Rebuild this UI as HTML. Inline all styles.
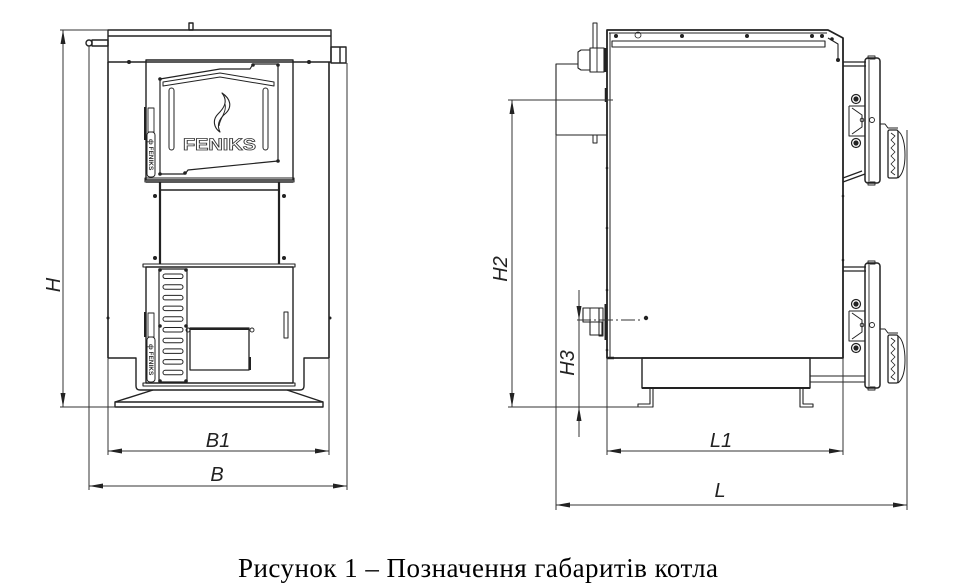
<!DOCTYPE html>
<html><head><meta charset="utf-8"><style>
html,body{margin:0;padding:0;background:#fff;}
svg{display:block;}
</style></head><body>
<svg width="953" height="584" viewBox="0 0 953 584" xmlns="http://www.w3.org/2000/svg">
<defs>
<marker id="a" viewBox="0 0 14 5" refX="14" refY="2.5" markerWidth="14" markerHeight="5" markerUnits="userSpaceOnUse" orient="auto-start-reverse"><path d="M0,0L14,2.5L0,5z" fill="#222"/></marker>
</defs>
<rect width="953" height="584" fill="#fff"/>

<!-- ================= FRONT VIEW ================= -->
<g stroke="#222" fill="none" stroke-width="1.4" stroke-linejoin="round">
  <rect x="108" y="30" width="223" height="32"/>
  <line x1="108" y1="36" x2="331" y2="36"/>
  <rect x="189" y="23" width="4" height="7"/>
  <circle cx="89" cy="43" r="3"/>
  <rect x="92" y="40" width="16" height="6"/>
  <rect x="331" y="47" width="15" height="16"/>
  <line x1="340" y1="47" x2="340" y2="63"/>
  <line x1="108" y1="62" x2="108" y2="358" stroke-width="1.6"/>
  <line x1="329" y1="62" x2="329" y2="358" stroke-width="1.6"/>
  <rect x="146" y="60" width="147" height="120"/>
  <rect x="145" y="178" width="149" height="4" stroke-width="1.1"/>
  <path d="M160,79 L220,69 L250,69 L253,64 L278,64 L278,161 L188,170 L185,174 L160,174 Z" stroke-width="1.2"/>
  <path d="M163,82 L220,73 L274,82 L274,86 L220,77 L163,86 Z" stroke-width="1"/>
  <rect x="169" y="88" width="5" height="62" rx="2.5" stroke-width="1"/>
  <rect x="263" y="88" width="5" height="62" rx="2.5" stroke-width="1"/>
  <path d="M222,93 C229,102 223,109 218,114 C212,120 214,128 220,132 C216,124 220,118 226,113 C232,107 231,99 222,93 Z" stroke-width="1.1"/>
  <path d="M225,104 C227,112 220,118 219,126" stroke-width="0.9"/>
  <line x1="146" y1="182" x2="293" y2="182"/>
  <line x1="160" y1="190" x2="279" y2="190"/>
  <line x1="160" y1="182" x2="160" y2="264" stroke-width="2.2"/>
  <line x1="279" y1="182" x2="279" y2="264" stroke-width="2.2"/>
  <line x1="145" y1="107" x2="145" y2="140" stroke-width="2"/>
  <rect x="148" y="108" width="6" height="24" stroke-width="0.9"/>
  <rect x="147" y="132" width="8" height="45" rx="3" stroke-width="1"/>
  <rect x="143" y="264" width="152" height="3" stroke-width="1.1"/>
  <rect x="146" y="267" width="147" height="116"/>
  <rect x="143" y="383" width="152" height="3" stroke-width="1.1"/>
  <rect x="159" y="269" width="28" height="113" stroke-width="1.2"/>
  <g stroke-width="1">
    <rect x="163" y="274" width="20" height="4.5" rx="2.2"/>
    <rect x="163" y="284.7" width="20" height="4.5" rx="2.2"/>
    <rect x="163" y="295.4" width="20" height="4.5" rx="2.2"/>
    <rect x="163" y="306.1" width="20" height="4.5" rx="2.2"/>
    <rect x="163" y="316.8" width="20" height="4.5" rx="2.2"/>
    <rect x="163" y="327.5" width="20" height="4.5" rx="2.2"/>
    <rect x="163" y="338.2" width="20" height="4.5" rx="2.2"/>
    <rect x="163" y="348.9" width="20" height="4.5" rx="2.2"/>
    <rect x="163" y="359.6" width="20" height="4.5" rx="2.2"/>
    <rect x="163" y="370.3" width="20" height="4.5" rx="2.2"/>
  </g>
  <rect x="190" y="328" width="59" height="42" stroke-width="1.3"/>
  <line x1="190" y1="329" x2="249" y2="329" stroke-width="2"/>
  <circle cx="188" cy="330" r="2" stroke-width="0.9"/>
  <circle cx="252" cy="330" r="2" stroke-width="0.9"/>
  <line x1="250" y1="357" x2="250" y2="370" stroke-width="2"/>
  <rect x="284" y="312" width="4" height="26" stroke-width="1"/>
  <line x1="145" y1="312" x2="145" y2="337" stroke-width="2"/>
  <rect x="148" y="313" width="6" height="24" stroke-width="0.9"/>
  <rect x="147" y="337" width="8" height="45" rx="3" stroke-width="1"/>
  <path d="M108,358 H136 V386 Q136,390 140,390 H300 Q304,390 304,386 V358 H329"/>
  <line x1="153" y1="390" x2="115" y2="402"/>
  <line x1="287" y1="390" x2="323" y2="402"/>
  <rect x="115" y="402" width="208" height="5"/>
</g>
<g fill="#222">
  <circle cx="129" cy="62" r="2"/><circle cx="309" cy="62" r="2"/>
  <circle cx="160" cy="79" r="1.8"/><circle cx="253" cy="65" r="1.8"/><circle cx="278" cy="65" r="1.8"/>
  <circle cx="278" cy="161" r="1.8"/><circle cx="160" cy="174" r="1.8"/><circle cx="185" cy="173" r="1.8"/>
  <circle cx="155" cy="196" r="2"/><circle cx="284" cy="196" r="2"/>
  <circle cx="155" cy="258" r="2"/><circle cx="284" cy="258" r="2"/>
  <circle cx="160" cy="270" r="1.8"/><circle cx="186" cy="270" r="1.8"/>
  <circle cx="160" cy="326" r="1.8"/><circle cx="186" cy="326" r="1.8"/>
  <circle cx="160" cy="381" r="1.8"/><circle cx="186" cy="381" r="1.8"/>
  <circle cx="108" cy="318" r="1.5"/><circle cx="330" cy="318" r="1.5"/>
</g>
<text x="183" y="150" font-family="Liberation Sans, sans-serif" font-weight="bold" font-size="16.5" fill="#fff" stroke="#333" stroke-width="0.8" textLength="73" lengthAdjust="spacingAndGlyphs">FENIKS</text>
<text transform="translate(149,139) rotate(90)" font-family="Liberation Sans, sans-serif" font-weight="bold" font-size="6.5" fill="#333">ф FENIKS</text>
<text transform="translate(149,344) rotate(90)" font-family="Liberation Sans, sans-serif" font-weight="bold" font-size="6.5" fill="#333">ф FENIKS</text>

<g stroke="#333" stroke-width="1" fill="none">
  <line x1="60" y1="30" x2="108" y2="30"/>
  <line x1="60" y1="407" x2="116" y2="407"/>
  <line x1="63" y1="30" x2="63" y2="407" marker-start="url(#a)" marker-end="url(#a)"/>
  <line x1="108" y1="358" x2="108" y2="455"/>
  <line x1="329" y1="358" x2="329" y2="455"/>
  <line x1="108" y1="451" x2="329" y2="451" marker-start="url(#a)" marker-end="url(#a)"/>
  <line x1="89" y1="46" x2="89" y2="490"/>
  <line x1="347" y1="63" x2="347" y2="490"/>
  <line x1="89" y1="486" x2="347" y2="486" marker-start="url(#a)" marker-end="url(#a)"/>
</g>
<g font-family="Liberation Sans, sans-serif" font-style="italic" font-size="20" fill="#222" text-anchor="middle">
  <text transform="translate(60,285) rotate(-90)">H</text>
  <text x="218" y="447">B1</text>
  <text x="217" y="481">B</text>
</g>

<!-- ================= SIDE VIEW ================= -->
<g stroke="#222" fill="none" stroke-width="1.4" stroke-linejoin="round">
  <path d="M607,30 H828 L843,38 V358 H607 Z" stroke-width="1.8"/>
  <line x1="609" y1="33" x2="827" y2="33" stroke-width="1"/>
  <line x1="610" y1="33" x2="610" y2="358" stroke-width="1"/>
  <rect x="612" y="41" width="213" height="6" stroke-width="1.1"/>
  <circle cx="638" cy="35" r="3" stroke-width="0.8"/>
  <path d="M828,38 L838,44 V60" stroke-width="1.1"/>
  <path d="M578,64 H556 V135 H607" stroke-width="1.1"/>
  <path d="M578,52 L581,50 H590 V70 H581 L578,68 Z" stroke-width="1.1"/>
  <rect x="590" y="48" width="14" height="24" stroke-width="1.1"/>
  <line x1="597" y1="48" x2="597" y2="72" stroke-width="0.9"/>
  <rect x="593" y="23" width="4" height="25" stroke-width="1"/>
  <line x1="606" y1="48" x2="606" y2="72" stroke-width="3"/>
  <line x1="606" y1="88" x2="606" y2="102" stroke-width="2.5"/>
  <rect x="593" y="135" width="4" height="8" stroke-width="1"/>
  <rect x="583" y="308" width="16" height="14" stroke-width="1.1"/>
  <line x1="590" y1="308" x2="590" y2="322" stroke-width="0.9"/>
  <rect x="590" y="322" width="12" height="13" stroke-width="1.1"/>
  <rect x="599" y="308" width="4" height="28" stroke-width="1"/>
  <line x1="606" y1="304" x2="606" y2="340" stroke-width="3"/>
  <rect x="642" y="358" width="168" height="30"/>
  <line x1="642" y1="388" x2="810" y2="388" stroke-width="2"/>
  <path d="M650,388 V404 H638 V407 H653 V388" stroke-width="1.1"/>
  <path d="M800,388 V407 H813 V404 H803 V388" stroke-width="1.1"/>
  <line x1="810" y1="376" x2="865" y2="376" stroke-width="1.1"/>
  <line x1="810" y1="382" x2="865" y2="382" stroke-width="1.1"/>
  <line x1="607" y1="358" x2="614" y2="358" stroke-width="2.5"/>
</g>
<g fill="#222">
  <circle cx="616" cy="36" r="2"/><circle cx="682" cy="36" r="2"/><circle cx="747" cy="36" r="2"/>
  <circle cx="812" cy="36" r="2"/><circle cx="822" cy="36" r="2"/><circle cx="832" cy="39" r="1.8"/>
  <circle cx="838" cy="60" r="2"/>
  <circle cx="607" cy="168" r="1.3"/><circle cx="607" cy="228" r="1.3"/>
  <circle cx="607" cy="290" r="1.3"/><circle cx="607" cy="350" r="1.3"/>
  <circle cx="843" cy="196" r="1.3"/><circle cx="843" cy="260" r="1.3"/>
  <circle cx="646" cy="318" r="2.2"/>
</g>

<g stroke="#222" fill="none" stroke-width="1.2" stroke-linejoin="round">
  <line x1="843" y1="62" x2="866" y2="62"/>
  <line x1="843" y1="66" x2="866" y2="66"/>
  <rect x="865" y="58" width="15" height="125" rx="3" stroke-width="1.5"/>
  <line x1="869" y1="60" x2="869" y2="181" stroke-width="0.9"/>
  <rect x="868" y="56" width="7" height="3" stroke-width="0.9"/>
  <rect x="868" y="182" width="7" height="3" stroke-width="0.9"/>
  <circle cx="856" cy="99" r="4.5"/>
  <circle cx="856" cy="99" r="2" fill="#222"/>
  <circle cx="856" cy="143" r="4.5"/>
  <circle cx="856" cy="143" r="2" fill="#222"/>
  <path d="M849,106 H865 M849,106 V136 H865 M852,108 L862,115 L862,127 L852,134" stroke-width="1"/>
  <circle cx="862" cy="120" r="1.8" stroke-width="0.9"/>
  <circle cx="872" cy="120" r="2.5" stroke-width="0.9"/>
  <path d="M880,124 H885 L888,128 H898" stroke-width="1"/>
  <rect x="888" y="130" width="10" height="48" rx="1.5" stroke-width="1.3"/>
  <path d="M891,133 L895,136 L891,140 L895,144 L891,148 L895,152 L891,156 L895,160 L891,164 L895,168 L891,172 L895,175" stroke-width="0.8"/>
  <path d="M898,131 C903,134 905,145 905,155 C905,166 903,174 898,178" stroke-width="1"/>
  <line x1="843" y1="182" x2="865" y2="174"/>
  <line x1="843" y1="178" x2="862" y2="171"/>
</g>
<g transform="translate(0,205)" stroke="#222" fill="none" stroke-width="1.2" stroke-linejoin="round">
  <line x1="843" y1="62" x2="866" y2="62"/>
  <line x1="843" y1="66" x2="866" y2="66"/>
  <rect x="865" y="58" width="15" height="125" rx="3" stroke-width="1.5"/>
  <line x1="869" y1="60" x2="869" y2="181" stroke-width="0.9"/>
  <rect x="868" y="56" width="7" height="3" stroke-width="0.9"/>
  <rect x="868" y="182" width="7" height="3" stroke-width="0.9"/>
  <circle cx="856" cy="99" r="4.5"/>
  <circle cx="856" cy="99" r="2" fill="#222"/>
  <circle cx="856" cy="143" r="4.5"/>
  <circle cx="856" cy="143" r="2" fill="#222"/>
  <path d="M849,106 H865 M849,106 V136 H865 M852,108 L862,115 L862,127 L852,134" stroke-width="1"/>
  <circle cx="862" cy="120" r="1.8" stroke-width="0.9"/>
  <circle cx="872" cy="120" r="2.5" stroke-width="0.9"/>
  <path d="M880,124 H885 L888,128 H898" stroke-width="1"/>
  <rect x="888" y="130" width="10" height="48" rx="1.5" stroke-width="1.3"/>
  <path d="M891,133 L895,136 L891,140 L895,144 L891,148 L895,152 L891,156 L895,160 L891,164 L895,168 L891,172 L895,175" stroke-width="0.8"/>
  <path d="M898,131 C903,134 905,145 905,155 C905,166 903,174 898,178" stroke-width="1"/>
</g>

<g stroke="#333" stroke-width="1" fill="none">
  <line x1="556" y1="135" x2="556" y2="510"/>
  <line x1="907" y1="130" x2="907" y2="510"/>
  <line x1="556" y1="505" x2="907" y2="505" marker-start="url(#a)" marker-end="url(#a)"/>
  <line x1="607" y1="358" x2="607" y2="455"/>
  <line x1="843" y1="358" x2="843" y2="455"/>
  <line x1="607" y1="451" x2="843" y2="451" marker-start="url(#a)" marker-end="url(#a)"/>
  <line x1="508" y1="100" x2="613" y2="100"/>
  <line x1="508" y1="407" x2="652" y2="407"/>
  <line x1="512" y1="100" x2="512" y2="407" marker-start="url(#a)" marker-end="url(#a)"/>
  <line x1="579" y1="290" x2="579" y2="437"/>
  <line x1="577" y1="320" x2="640" y2="320" stroke-dasharray="14,3,2,3"/>
</g>
<g fill="#222">
  <path d="M576.5,306 L579,320 L581.5,306 Z"/>
  <path d="M576.5,421 L579,407 L581.5,421 Z"/>
</g>
<g font-family="Liberation Sans, sans-serif" font-style="italic" font-size="20" fill="#222" text-anchor="middle">
  <text transform="translate(507,269) rotate(-90)">H2</text>
  <text transform="translate(574,363) rotate(-90)">H3</text>
  <text x="721" y="447">L1</text>
  <text x="720" y="497">L</text>
</g>

<text x="478" y="577" font-family="Liberation Serif, serif" font-size="27" fill="#000" text-anchor="middle" textLength="480" lengthAdjust="spacing">Рисунок 1 – Позначення габаритів котла</text>
</svg>
</body></html>
